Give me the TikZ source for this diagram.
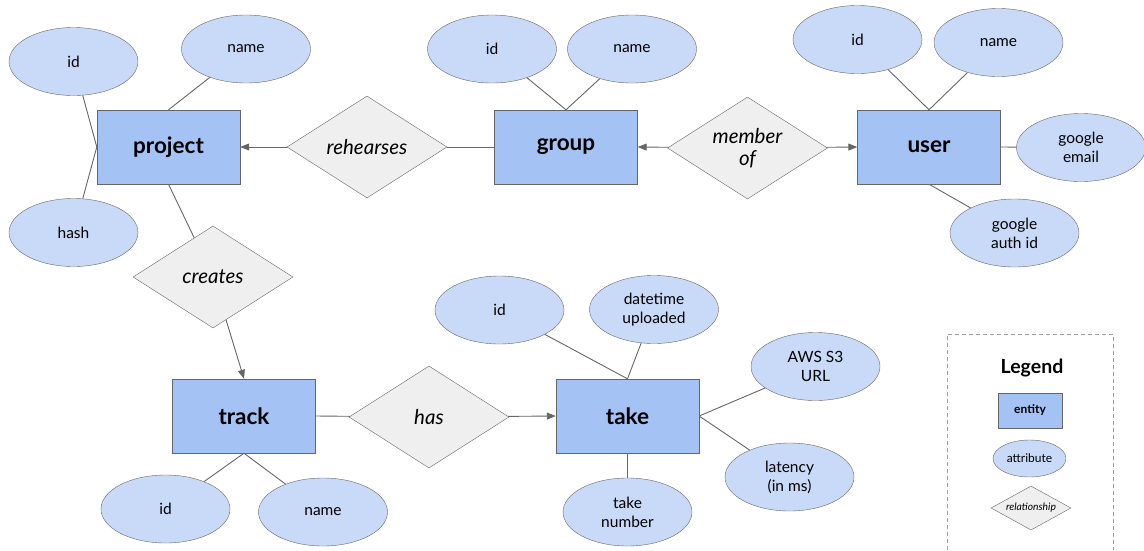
\documentclass[tikz,border=0pt]{standalone}
\usepackage{fontspec}
\setmainfont{Lato}
\usetikzlibrary{shapes.geometric,arrows.meta}
\definecolor{entityblue}{HTML}{A4C2F4}
\definecolor{attrblue}{HTML}{C9DAF8}
\definecolor{relgray}{HTML}{EFEFEF}
\definecolor{edgegray}{HTML}{666666}
\definecolor{legendgray}{HTML}{9E9E9E}

\begin{document}
\begin{tikzpicture}[x=1pt,y=-1pt,
    entity/.style={draw=edgegray, fill=entityblue, minimum width=143pt, minimum height=74pt, inner sep=0pt, font=\fontsize{22.5}{26}\selectfont\bfseries},
    attr/.style={ellipse, draw=edgegray, fill=attrblue, minimum width=129pt, minimum height=68pt, inner sep=0pt, align=center, font=\fontsize{15.5}{19}\selectfont},
    rel/.style={diamond, draw=edgegray, fill=relgray, aspect=1.57, minimum width=160pt, minimum height=102pt, inner sep=0pt, align=center, font=\fontsize{20.5}{22}\selectfont\itshape},
    link/.style={draw=edgegray, line width=0.9pt},
    arr/.style={link, -{Triangle[length=9pt,width=7pt]}}]
    \useasboundingbox (0,0) rectangle (1144,550);

    % project
    \node[entity] (project) at (168.5,147) {project};
    \node[attr] (pid) at (73.5,61.5) {id};
    \node[attr] (pname) at (246,49) {name};
    \node[attr] (phash) at (73.5,232.5) {hash};
    \node[rel] (rehearses) at (367,147) {rehearses};
    \node[rel] (creates) at (213,277) {creates};

    % group
    \node[entity] (group) at (566,147) {group};
    \node[attr] (gid) at (492,49) {id};
    \node[attr] (gname) at (632,49) {name};
    \node[rel] (member) at (747.5,148) {member\\of};

    % user
    \node[entity] (user) at (929,147) {user};
    \node[attr] (uid) at (857.5,39.5) {id};
    \node[attr] (uname) at (998.5,42.5) {name};
    \node[attr] (uemail) at (1081,147.5) {google\\email};
    \node[attr] (uauth) at (1014.5,233) {google\\auth id};

    % track
    \node[entity] (track) at (244,416) {track};
    \node[attr] (kid) at (165.5,509) {id};
    \node[attr] (kname) at (323,512) {name};
    \node[rel] (has) at (429,417) {has};

    % take
    \node[entity] (take) at (627.5,416) {take};
    \node[attr] (tid) at (499.5,310) {id};
    \node[attr] (tdate) at (654,309.5) {datetime\\uploaded};
    \node[attr] (taws) at (815.5,366.5) {AWS S3\\URL};
    \node[attr] (tlat) at (789.5,477) {latency\\(in ms)};
    \node[attr] (tnum) at (627.5,512) {take\\number};

    % attributes
    \draw[link] (project.west) -- (pid);
    \draw[link] (project.west) -- (phash);
    \draw[link] (project.north) -- (pname);
    \draw[link] (group.north) -- (gid);
    \draw[link] (group.north) -- (gname);
    \draw[link] (user.north) -- (uid);
    \draw[link] (user.north) -- (uname);
    \draw[link] (user.east) -- (uemail);
    \draw[link] (user.south) -- (uauth);
    \draw[link] (track.south) -- (kid);
    \draw[link] (track.south) -- (kname);
    \draw[link] (take.north) -- (tid);
    \draw[link] (take.north) -- (tdate);
    \draw[link] (take.east) -- (taws);
    \draw[link] (take.east) -- (tlat);
    \draw[link] (take.south) -- (tnum);

    % relationships
    \draw[link] (group.west) -- (rehearses);
    \draw[arr] (rehearses) -- (project.east);
    \draw[arr] (member) -- (group.east);
    \draw[arr] (member) -- (user.west);
    \draw[link] (project.south) -- (creates);
    \draw[arr] (creates) -- (track.north);
    \draw[link] (track.east) -- (has);
    \draw[arr] (has) -- (take.west);

    % legend
    \draw[legendgray, line width=0.9pt, dash pattern=on 4pt off 3pt] (947,550) |- (1113,334) -- (1113,550);
    \node[font=\fontsize{19.5}{22}\selectfont\bfseries] (legend) at (1032,368) {Legend};
    \node[entity, minimum width=64pt, minimum height=35pt, font=\fontsize{12}{14}\selectfont\bfseries] (lentity) at (1030,410.5) {entity};
    \node[attr, minimum width=73pt, minimum height=37pt, font=\fontsize{12}{14}\selectfont] (lattr) at (1029.5,458.5) {attribute};
    \node[rel, minimum width=80pt, minimum height=44pt, aspect=1.82, font=\fontsize{10.3}{12}\selectfont\itshape] (lrel) at (1031,508) {relationship};
\end{tikzpicture}
\end{document}
